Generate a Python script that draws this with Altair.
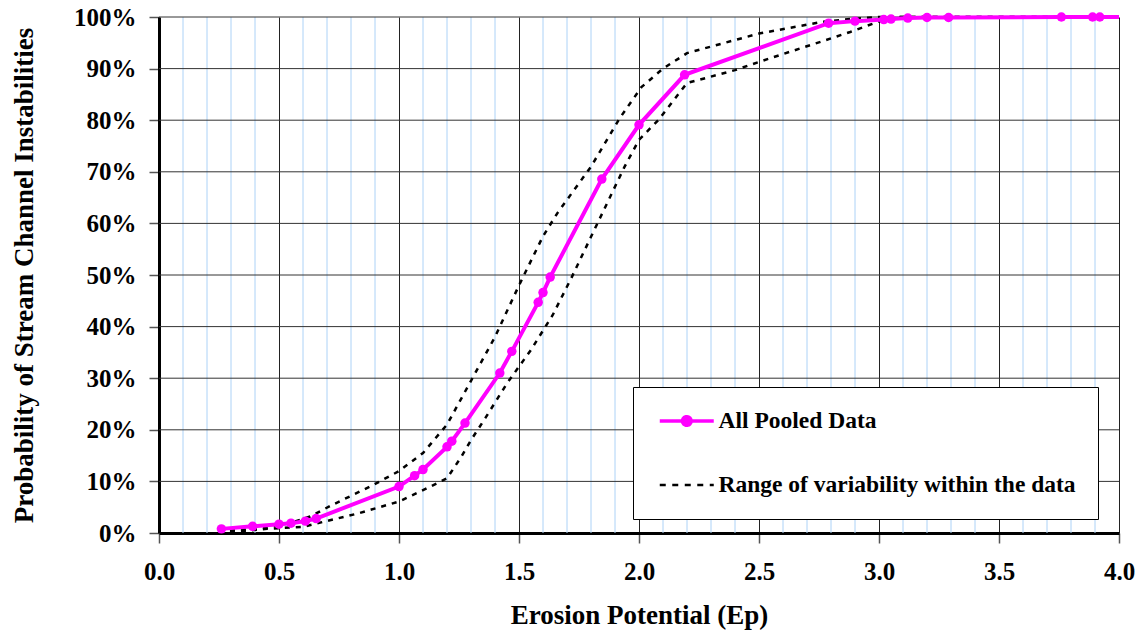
import altair as alt
import pandas as pd

# ---- data ----
pooled_x = [0.26, 0.39, 0.50, 0.55, 0.61, 0.655, 1.00, 1.065, 1.10, 1.20, 1.22, 1.275,
            1.42, 1.47, 1.58, 1.60, 1.63, 1.845, 2.00, 2.19, 2.79, 2.90, 3.02, 3.05,
            3.12, 3.20, 3.29, 3.76, 3.89, 3.92]
pooled_y = [0.8, 1.3, 1.7, 1.9, 2.3, 2.8, 9.0, 11.1, 12.3, 16.7, 17.8, 21.3,
            31.0, 35.2, 44.7, 46.6, 49.6, 68.6, 79.1, 88.8, 98.8, 99.2, 99.5, 99.6,
            99.8, 99.9, 99.9, 100.0, 100.0, 100.0]
pooled_tail_x = [4.0]
pooled_tail_y = [100.0]

upper_x = [0.25, 0.45, 0.55, 0.63, 0.72, 0.88, 1.00, 1.10, 1.20, 1.30, 1.40, 1.50,
           1.60, 1.66, 1.80, 1.92, 2.01, 2.10, 2.20, 2.50, 2.77, 2.88, 3.00, 4.00]
upper_y = [0.3, 1.0, 2.0, 3.2, 5.4, 9.0, 12.0, 15.5, 21.0, 29.5, 38.0, 48.0,
           57.5, 62.0, 71.0, 80.4, 86.4, 90.0, 93.0, 96.8, 99.1, 99.6, 100.0, 100.0]

lower_x = [0.25, 0.45, 0.60, 0.83, 1.00, 1.10, 1.20, 1.26, 1.30, 1.36, 1.45, 1.55,
           1.64, 1.72, 1.80, 1.87, 1.94, 2.00, 2.08, 2.20, 2.40, 2.50, 2.77, 2.88,
           2.98, 3.05, 4.00]
lower_y = [0.0, 0.8, 1.2, 3.8, 6.1, 8.3, 10.6, 14.8, 18.0, 22.3, 29.0, 35.5,
           42.2, 49.6, 57.4, 64.2, 71.0, 76.2, 80.0, 87.2, 89.7, 91.3, 95.4, 97.1,
           98.8, 100.0, 100.0]

series_names = ["All Pooled Data", "Range of variability within the data"]
x_major = [0.0, 0.5, 1.0, 1.5, 2.0, 2.5, 3.0, 3.5, 4.0]
x_minor = [round(i * 0.1, 1) for i in range(1, 40) if i % 5 != 0]
y_ticks = list(range(0, 101, 10))

# ---- tables ----
pooled_pts = pd.DataFrame({"ep": pooled_x, "p": pooled_y, "series": series_names[0]})
pooled_line = pd.DataFrame({"ep": pooled_x + pooled_tail_x, "p": pooled_y + pooled_tail_y,
                            "series": series_names[0]})
rng = pd.concat([
    pd.DataFrame({"ep": upper_x, "p": upper_y, "curve": "upper", "series": series_names[1]}),
    pd.DataFrame({"ep": lower_x, "p": lower_y, "curve": "lower", "series": series_names[1]}),
])
minor_df = pd.DataFrame({"ep": x_minor})
hgrid_df = pd.DataFrame({"p": y_ticks[1:]})

FONT = "Liberation Serif"
MAGENTA = "#ff00ff"

x_enc = alt.X("ep:Q", title="Erosion Potential (Ep)",
              scale=alt.Scale(domain=[0, 4], nice=False, zero=False),
              axis=alt.Axis(values=x_major, format=".1f",
                            grid=True, gridColor="#222222", gridWidth=1,
                            tickColor="#555555", tickSize=10, tickWidth=1.5,
                            labelPadding=16, labelFontSize=25, labelFont=FONT, labelFontWeight="bold",
                            labelColor="black", labelOverlap=False, labelFlush=False,
                            domainColor="black", domainWidth=3,
                            titleFont=FONT, titleFontSize=27, titleFontWeight="bold", titleColor="black",
                            titleX=480, titleY=82, titleBaseline="middle", titleAlign="center"))
y_enc = alt.Y("p:Q", title="Probability of Stream Channel Instabilities",
              scale=alt.Scale(domain=[0, 100], nice=False),
              axis=alt.Axis(values=y_ticks, labelExpr="datum.value + '%'",
                            grid=False,
                            tickColor="#555555", tickSize=10, tickWidth=1.5,
                            labelPadding=13, labelFontSize=25, labelFont=FONT, labelFontWeight="bold",
                            labelColor="black", labelOverlap=False, labelFlush=False,
                            labelBaseline="middle",
                            domainColor="black", domainWidth=3,
                            titleFont=FONT, titleFontSize=27, titleFontWeight="bold", titleColor="black",
                            titleX=-135, titleY=258, titleAngle=-90, titleBaseline="middle",
                            titleAlign="center"))

line_sym = "M-0.583,0L3.917,0"
dot_line_sym = ("M-0.583,0L3.917,0M2.03,0A0.36,0.36 0 1,1 1.31,0"
                "A0.36,0.36 0 1,1 2.03,0")
is_first = f"datum.value === '{series_names[0]}'"

color_enc = alt.Color(
    "series:N",
    scale=alt.Scale(domain=series_names, range=[MAGENTA, "black"]),
    legend=alt.Legend(
        title=None, orient="none", legendX=474, legendY=370,
        direction="vertical",
        fillColor="white", strokeColor="black", cornerRadius=0,
        padding=22, rowPadding=40, clipHeight=24,
        symbolSize=576, labelOffset=40,
        symbolType={"expr": f"{is_first} ? '{dot_line_sym}' : '{line_sym}'"},
        symbolFillColor={"expr": f"{is_first} ? '{MAGENTA}' : 'transparent'"},
        symbolDash={"expr": f"{is_first} ? [1, 0] : [6, 6.5]"},
        symbolStrokeWidth={"expr": f"{is_first} ? 3.5 : 2.5"},
        labelFont=FONT, labelFontSize=23.5, labelFontWeight="bold", labelColor="black",
        labelLimit=500,
    ),
)

minor_grid = alt.Chart(minor_df).mark_rule(color="#acd2f7", strokeWidth=1).encode(x="ep:Q")
h_grid = alt.Chart(hgrid_df).mark_rule(color="#333333", strokeWidth=1).encode(y="p:Q")
line_pooled = alt.Chart(pooled_line).mark_line(strokeWidth=4, clip=False).encode(
    x=x_enc, y=y_enc, color=color_enc)
line_range = alt.Chart(rng).mark_line(strokeWidth=2.5, strokeDash=[5, 6], clip=False).encode(
    x="ep:Q", y="p:Q", color=color_enc, detail="curve:N")
pts = alt.Chart(pooled_pts).mark_circle(size=90, color=MAGENTA, opacity=1, clip=False).encode(
    x="ep:Q", y="p:Q")

chart = alt.layer(minor_grid, h_grid, line_range, line_pooled, pts).properties(
    width=960, height=516,
    autosize=alt.AutoSizeParams(type="none"),
    padding={"left": 151, "top": 9, "right": 16, "bottom": 97},
    background="white",
).configure_view(stroke=None)

chart.save("out.html", embed_options={"renderer": "svg", "actions": False})
